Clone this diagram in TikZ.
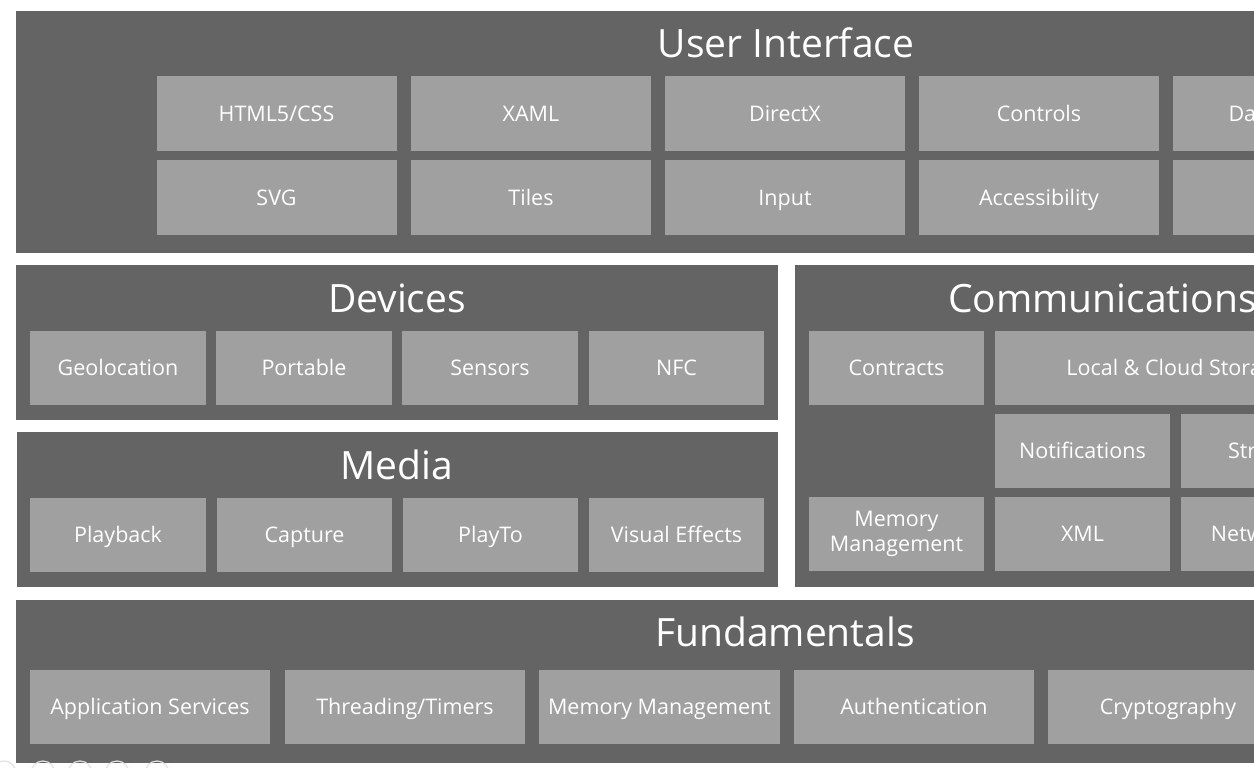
\documentclass[tikz,border=0pt]{standalone}
\usepackage{fontspec}
\newfontfamily\uifont{Open Sans}
\definecolor{panelgray}{HTML}{646464}
\definecolor{tilegray}{HTML}{A0A0A0}
\definecolor{dotgray}{HTML}{E2E2E2}
\begin{document}
\begin{tikzpicture}[x=1pt,y=-1pt,
  panel/.style={fill=panelgray,inner sep=0pt,outer sep=0pt,anchor=north west},
  tilebase/.style={fill=tilegray,text=white,inner sep=0pt,outer sep=0pt,minimum height=75pt,align=center,font=\uifont\fontsize{21.5}{25}\selectfont},
  tile/.style={tilebase,text height=15.5pt,text depth=0pt},
  wtile/.style={tile,minimum width=240pt},
  stile/.style={tile,minimum width=176pt},
  title/.style={text=white,inner sep=0pt,text height=28pt,text depth=0pt,font=\uifont\fontsize{39}{41}\selectfont},
  dot/.style={draw=dotgray,line width=1.2pt}]
\useasboundingbox (0,0) rectangle (1254,768);
\clip (0,0) rectangle (1254,768);
\fill[white] (0,0) rectangle (1254,768);
% panels
\node[panel,minimum width=1540pt,minimum height=242pt] (ui) at (16,11) {};
\node[panel,minimum width=762pt,minimum height=155pt] (dev) at (16,265) {};
\node[panel,minimum width=761pt,minimum height=155pt] (med) at (17,432) {};
\node[panel,minimum width=645pt,minimum height=322pt] (com) at (795,265) {};
\node[panel,minimum width=1540pt,minimum height=163pt] (fun) at (16,600) {};
% titles
\node[title] (tui) at (786,44) {User Interface};
\node[title] (tdev) at (397,298) {Devices};
\node[title] (tmed) at (397,465) {Media};
\node[title,anchor=west] (tcom) at (948,298) {Communications};
\node[title] (tfun) at (785,632) {Fundamentals};
% user interface tiles
\node[wtile] (u1) at (276.5,113.5) {HTML5/CSS};
\node[wtile] (u2) at (531,113.5) {XAML};
\node[wtile] (u3) at (785,113.5) {DirectX};
\node[wtile] (u4) at (1039,113.5) {Controls};
\node[wtile] (u5) at (1293,113.5) {Data Binding};
\node[wtile] (u6) at (276.5,197.5) {SVG};
\node[wtile] (u7) at (531,197.5) {Tiles};
\node[wtile] (u8) at (785,197.5) {Input};
\node[wtile] (u9) at (1039,197.5) {Accessibility};
\node[wtile] (u10) at (1293,197.5) {};
% devices
\node[stile,minimum height=74pt] (d1) at (118,368) {Geolocation};
\node[stile,minimum height=74pt] (d2) at (304,368) {Portable};
\node[stile,minimum height=74pt] (d3) at (490,368) {Sensors};
\node[stile,minimum height=74pt,minimum width=175pt] (d4) at (676.5,368) {NFC};
% media
\node[stile,minimum height=74pt] (m1) at (118,535) {Playback};
\node[stile,minimum height=74pt,minimum width=175pt] (m2) at (304.5,535) {Capture};
\node[stile,minimum height=74pt,minimum width=175pt] (m3) at (490.5,535) {PlayTo};
\node[stile,minimum height=74pt,minimum width=175pt] (m4) at (676.5,535) {Visual Effects};
% communications
\node[stile,minimum height=74pt,minimum width=175pt] (c1) at (896.5,368) {Contracts};
\node[tile,minimum height=74pt,minimum width=362pt] (c2) at (1176,368) {Local \& Cloud Storage};
\node[stile,minimum height=74pt,minimum width=175pt] (c3) at (1082.5,451) {Notifications};
\node[stile,minimum height=74pt] (c4) at (1269,451) {Streams};
\node[tilebase,minimum height=74pt,minimum width=175pt] (c5) at (896.5,534) {Memory\\Management};
\node[stile,minimum height=74pt,minimum width=175pt] (c6) at (1082.5,534) {XML};
\node[stile,minimum height=74pt] (c7) at (1269,534) {Networking};
% fundamentals
\node[wtile,minimum height=74pt] (f1) at (150,707) {Application Services};
\node[wtile,minimum height=74pt] (f2) at (405,707) {Threading/Timers};
\node[wtile,minimum height=74pt,minimum width=241pt] (f3) at (659.5,707) {Memory Management};
\node[wtile,minimum height=74pt] (f4) at (914,707) {Authentication};
\node[wtile,minimum height=74pt] (f5) at (1168,707) {Cryptography};
% loading dots
\foreach \i/\xx in {1/4,2/43,3/80,4/117,5/157} {
  \draw[dot] (\xx,773) circle (12);
}
\end{tikzpicture}
\end{document}
